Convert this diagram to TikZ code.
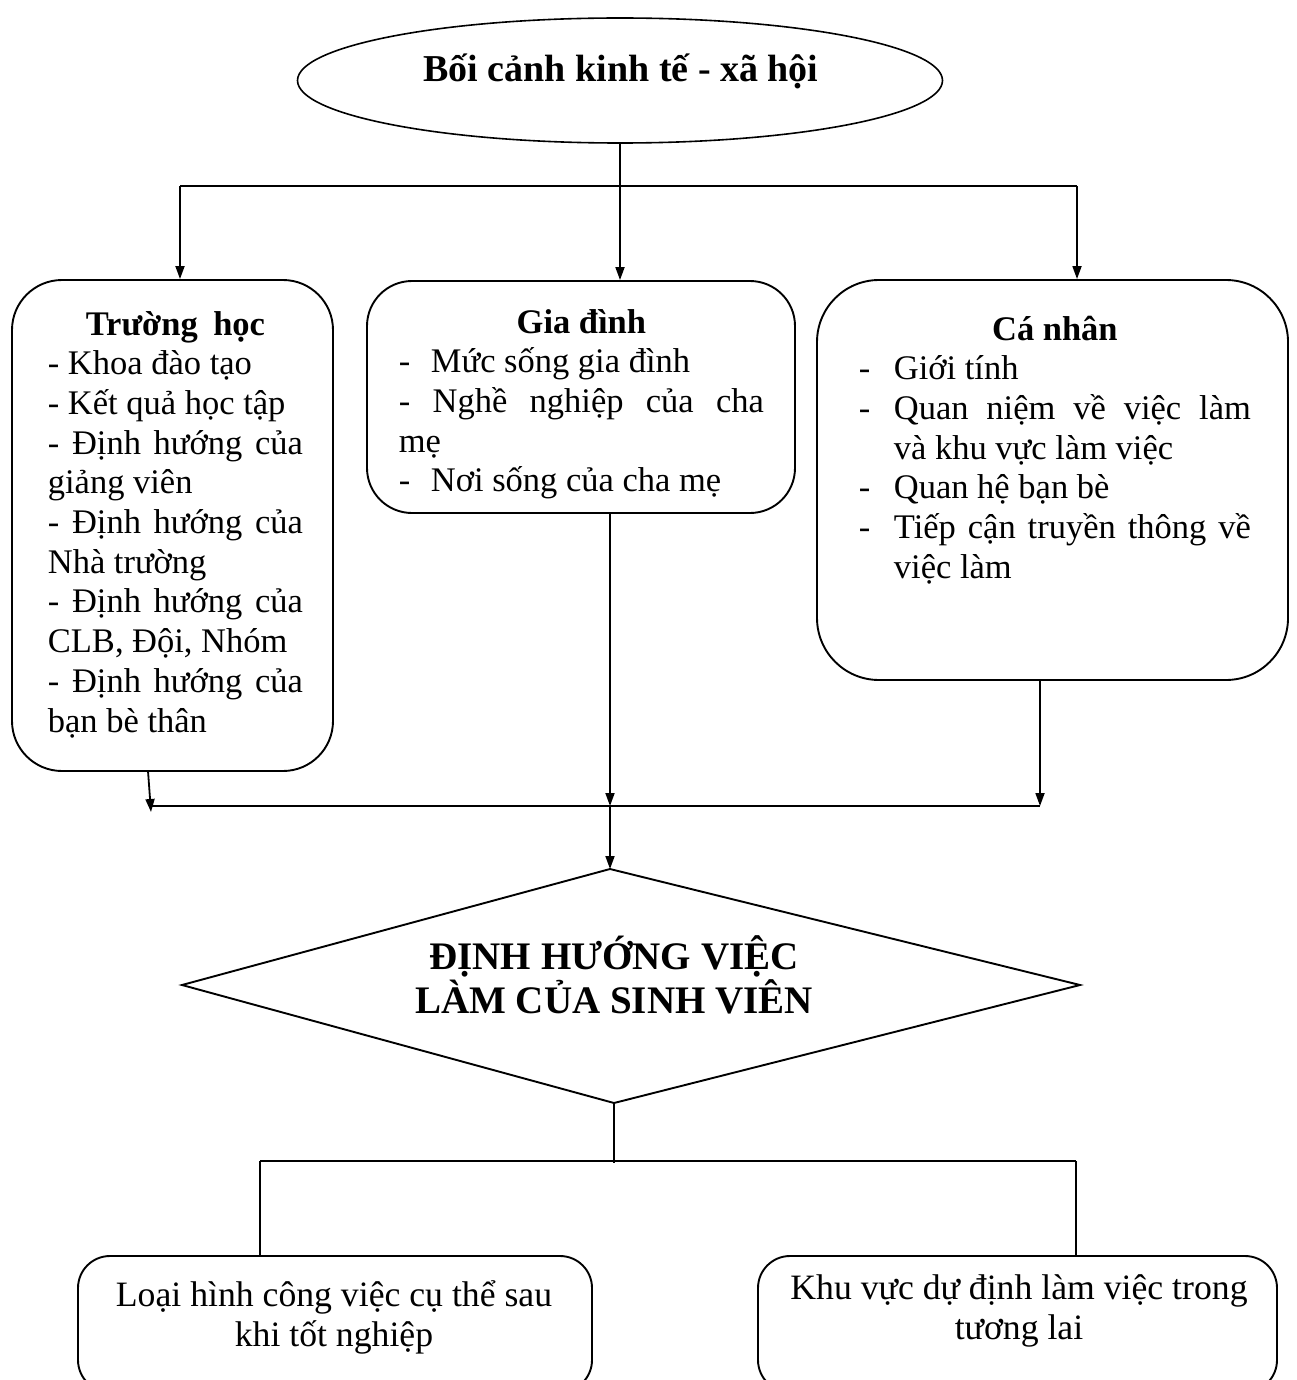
\documentclass[tikz,border=0pt]{standalone}
\usepackage{fontspec}
\setmainfont{Liberation Serif}
\usetikzlibrary{shapes.geometric,arrows.meta}
\hyphenpenalty=10000
\exhyphenpenalty=10000
\newcommand\dashitem[1]{\par\hangindent=35pt\hangafter=1\noindent\makebox[35pt][l]{-}#1\par}
\newcommand\boxtitle[1]{\noindent\makebox[\hsize][c]{\bfseries #1}\par}
\begin{document}
\begin{tikzpicture}[x=1pt,y=-1pt,
  line width=1.8pt,
  arr/.style={-{Triangle[length=13pt,width=9pt]}},
  rbox/.style={draw, inner sep=0pt, line width=1.9pt},
  body/.style={inner sep=0pt, anchor=base west, align=justify,
    font=\fontsize{34.5}{39.7}\selectfont},
  ctext/.style={inner sep=0pt, anchor=base, align=center,
    font=\fontsize{35.7}{39.5}\selectfont},
]
\useasboundingbox (0,0) rectangle (1297,1380);
\clip (0,0) rectangle (1297,1380);

% top ellipse
\node[draw, ellipse, inner sep=0pt, minimum width=645pt, minimum height=125pt, line width=1.6pt] (top) at (620,80.5) {};
\node[inner sep=0pt, anchor=base, font=\fontsize{38}{44}\selectfont\bfseries] (toptxt) at (621,82) {Bối cảnh kinh tế - xã hội};

% three boxes
\node[rbox, rounded corners=50pt, minimum width=321pt, minimum height=491pt] (b1) at (172.5,525.5) {};
\node[rbox, rounded corners=45pt, minimum width=428pt, minimum height=232pt] (b2) at (581,397) {};
\node[rbox, rounded corners=62pt, minimum width=471pt, minimum height=400pt] (b3) at (1052.5,480) {};

\node[body, text width=255pt] (t1) at (47,335) {%
\boxtitle{Trường\hspace{0.45em}học}%
- Khoa đào tạo\par
- Kết quả học tập\par
- Định hướng của \linebreak giảng viên\par
- Định hướng của \linebreak Nhà trường\par
- Định hướng của \linebreak CLB, Đội, Nhóm\par
- Định hướng của \linebreak bạn bè thân};

\node[body, text width=365pt] (t2) at (398,333) {%
\boxtitle{Gia đình}%
\makebox[32pt][l]{-}Mức sống gia đình\par
- Nghề nghiệp của cha \linebreak mẹ\par
\makebox[32pt][l]{-}Nơi sống của cha mẹ};

\node[body, text width=392pt] (t3) at (858,340) {%
\boxtitle{Cá nhân}%
\dashitem{Giới tính}%
\dashitem{Quan niệm về việc làm \linebreak và khu vực làm việc}%
\dashitem{Quan hệ bạn bè}%
\dashitem{Tiếp cận truyền thông về \linebreak việc làm}};

% diamond
\coordinate (dT) at (610,869);
\coordinate (dR) at (1080,985);
\coordinate (dB) at (614,1103);
\coordinate (dL) at (182,985);
\draw[line width=1.9pt] (dT) -- (dR) -- (dB) -- (dL) -- cycle;
\node[inner sep=0pt, anchor=base, align=center, font=\fontsize{39}{44}\selectfont\bfseries] (dtxt) at (614,1013) {ĐỊNH HƯỚNG VIỆC\\LÀM CỦA SINH VIÊN};

% bottom boxes
\node[rbox, rounded corners=32pt, minimum width=514pt, minimum height=136pt] (b4) at (335,1324) {};
\node[rbox, rounded corners=32pt, minimum width=519pt, minimum height=136pt] (b5) at (1017.5,1324) {};
\node[ctext] (t4) at (334,1346) {Loại hình công việc cụ thể sau\\khi tốt nghiệp};
\node[ctext] (t5) at (1019,1339) {Khu vực dự định làm việc trong\\tương lai};

% upper connectors
\coordinate (busL) at (180,186);
\coordinate (busR) at (1077,186);
\draw[line width=1.6pt] (busL) -- (busR);
\draw[arr] (top.south) -- (top.south |- b2.north);
\draw[arr] (busL) -- (busL |- b1.north);
\draw[arr] (busR) -- (busR |- b3.north);

% middle connectors
\coordinate (s1) at (148,771);
\coordinate (m1) at (151,812);
\coordinate (mL) at (152,806);
\coordinate (m2) at (610,806);
\coordinate (m3) at (1040,806);
\draw[line width=2.2pt] (mL) -- (m3);
\draw[arr] (s1) -- (m1);
\draw[arr] (b2.south -| m2) -- (m2);
\draw[arr] (b3.south -| m3) -- (m3);
\draw[arr] (m2) -- (dT);

% lower connectors
\coordinate (n3) at (614,1163);
\coordinate (nL) at (260,1161);
\coordinate (nR) at (1076,1161);
\draw (dB) -- (n3);
\draw[line width=1.6pt] (nL) -- (nR);
\draw[line width=1.4pt] (nL) -- (nL |- b4.north);
\draw[line width=1.4pt] (nR) -- (nR |- b5.north);
\end{tikzpicture}
\end{document}
